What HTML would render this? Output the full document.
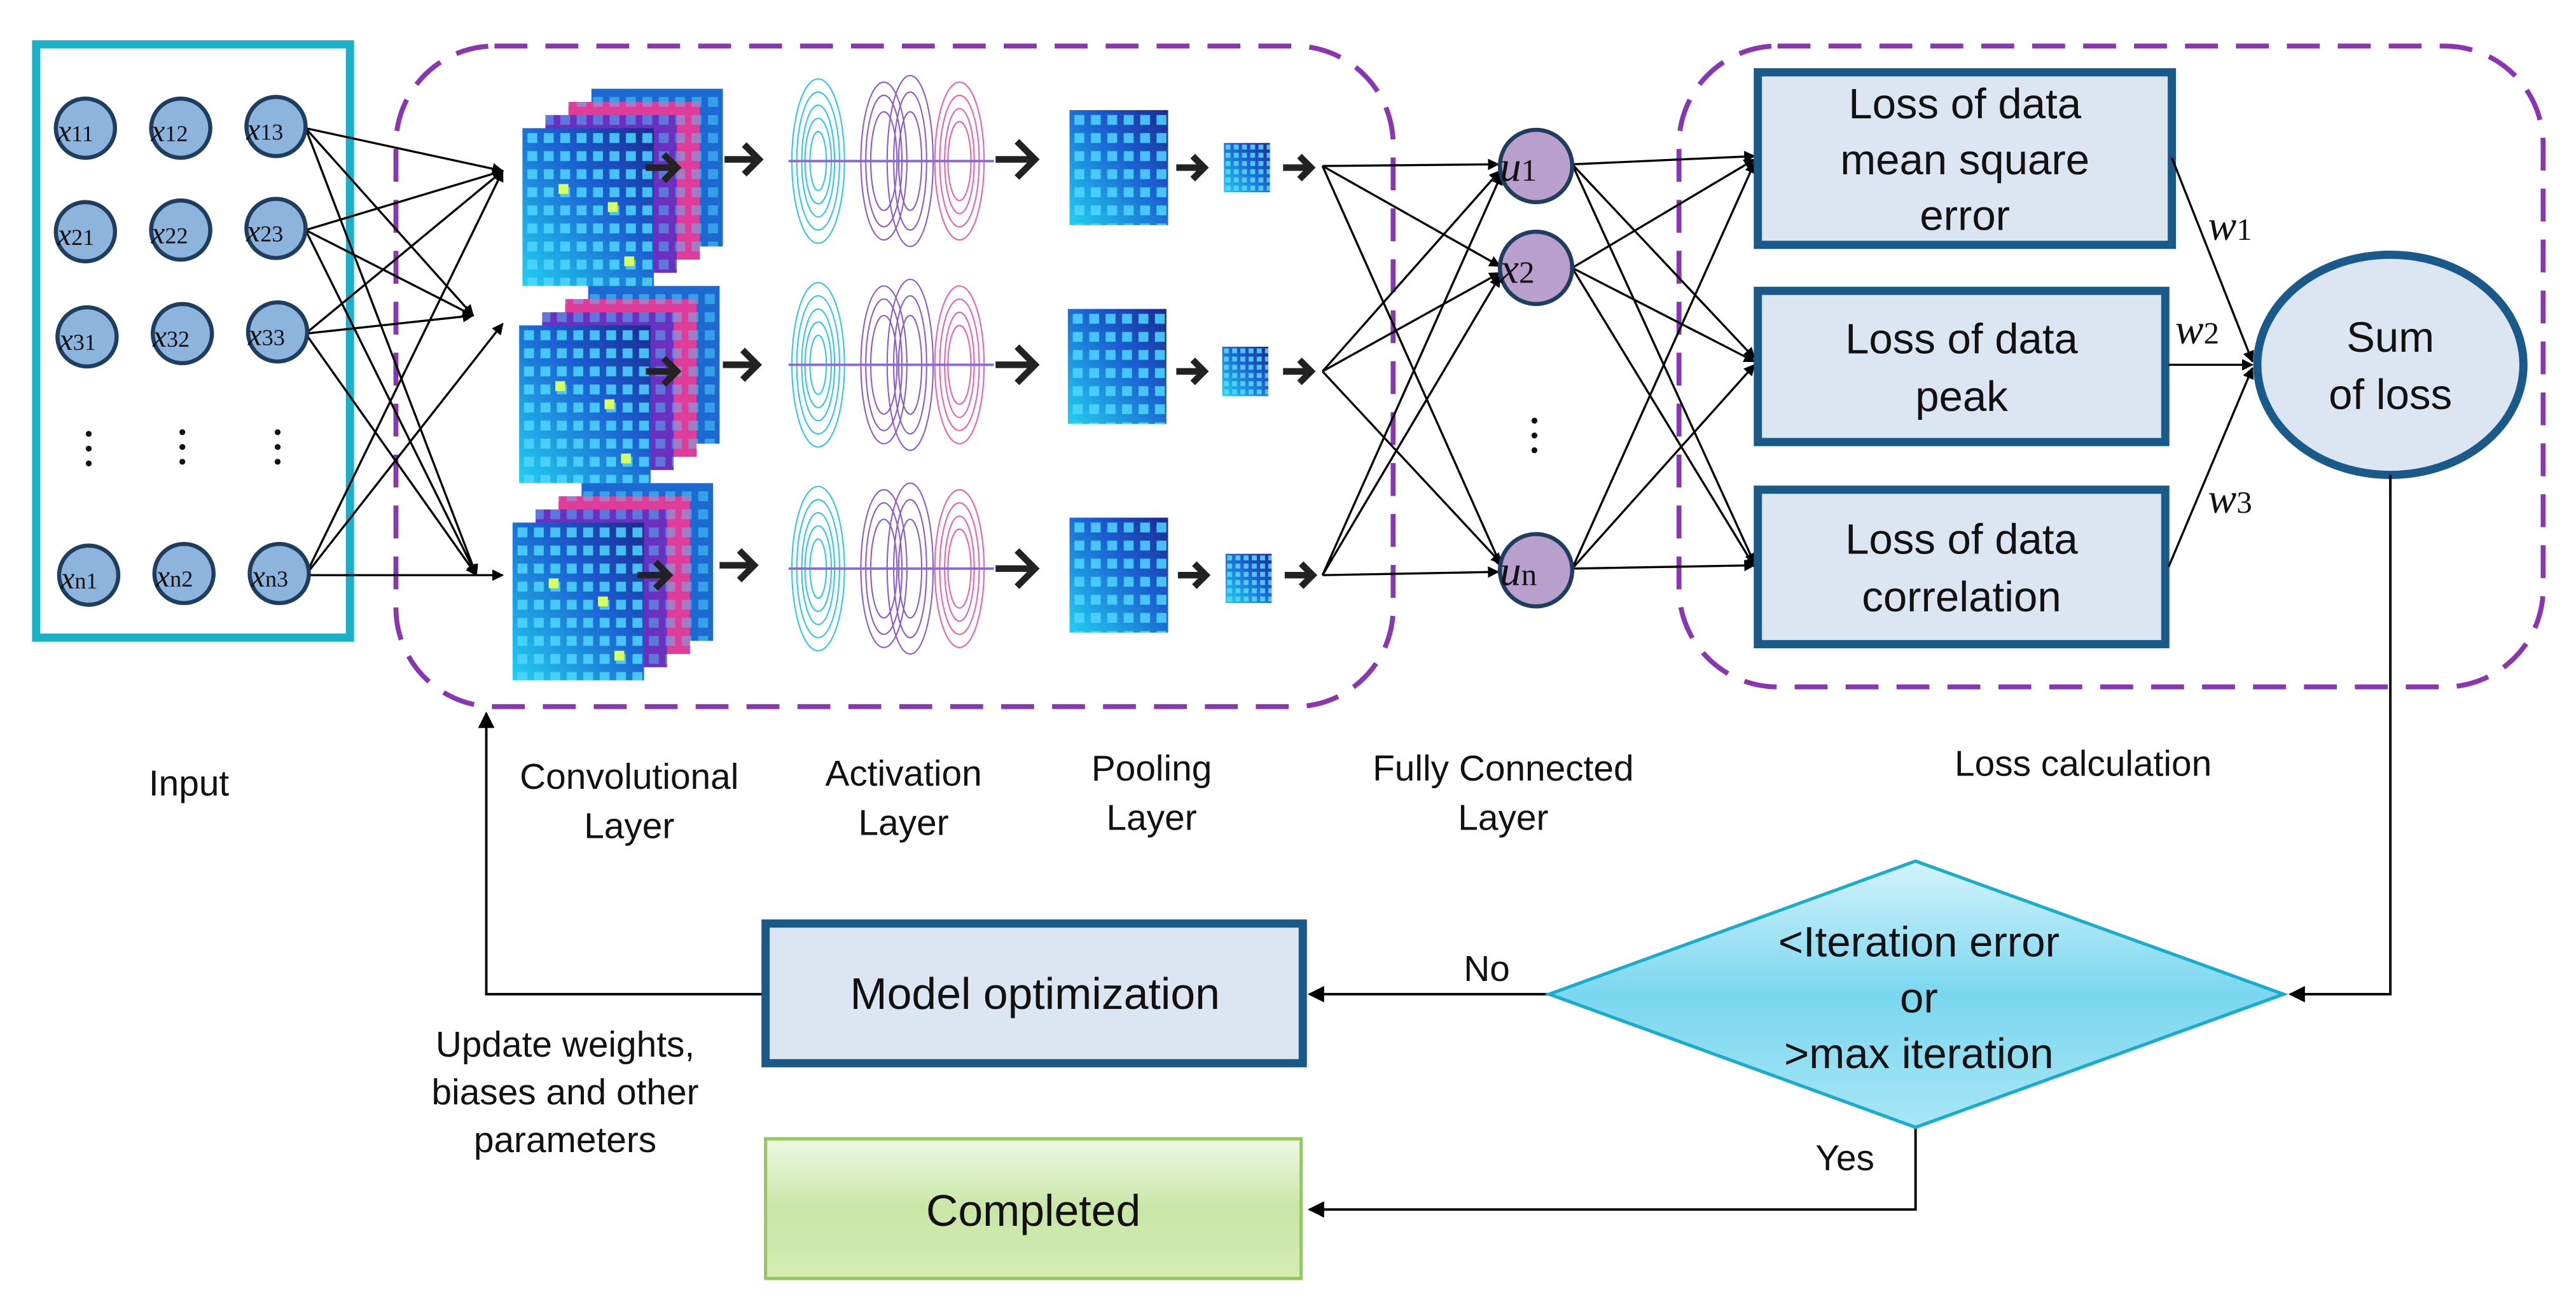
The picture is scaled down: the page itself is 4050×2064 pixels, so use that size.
<!DOCTYPE html>
<html><head><meta charset="utf-8"><style>
html,body{margin:0;padding:0;background:#fff;}
svg{display:block;}
text{font-family:"Liberation Sans","DejaVu Sans",sans-serif;fill:#111;}
.m{font-family:"Liberation Serif",serif;font-style:italic;}
</style></head><body>
<svg width="4050" height="2064" viewBox="0 0 1568 799" preserveAspectRatio="none" xmlns="http://www.w3.org/2000/svg">
<defs>
<marker id="ar" viewBox="0 0 10 10" refX="9" refY="5" markerWidth="7" markerHeight="7" orient="auto" markerUnits="userSpaceOnUse"><path d="M0,0 L10,5 L0,10 z" fill="#000"/></marker>
<marker id="ar2" viewBox="0 0 10 10" refX="9" refY="5" markerWidth="10" markerHeight="10" orient="auto" markerUnits="userSpaceOnUse"><path d="M0,0 L10,5 L0,10 z" fill="#000"/></marker>
<pattern id="grid" width="10" height="11" patternUnits="userSpaceOnUse"><rect x="3" y="3" width="6" height="6" fill="#4fd6ff" opacity="0.85"/></pattern>
<pattern id="grid2" width="5" height="5" patternUnits="userSpaceOnUse"><rect x="1" y="1" width="3" height="3" fill="#5ad8ff" opacity="0.85"/></pattern>
<linearGradient id="fr" x1="0" y1="1" x2="1" y2="0"><stop offset="0" stop-color="#22d0f0"/><stop offset="0.6" stop-color="#1a5ed0"/><stop offset="1" stop-color="#1a2a90"/></linearGradient>
<linearGradient id="dg" x1="0" y1="0" x2="0" y2="1"><stop offset="0" stop-color="#d4f3fc"/><stop offset="0.5" stop-color="#7ad7ef"/><stop offset="1" stop-color="#a8e6f6"/></linearGradient>
<linearGradient id="gg" x1="0" y1="0" x2="0" y2="1"><stop offset="0" stop-color="#eef8e4"/><stop offset="0.5" stop-color="#c9e6a6"/><stop offset="1" stop-color="#d3ecb4"/></linearGradient>
<g id="stack">
<rect x="42" y="-24" width="80" height="96" fill="#1c6ad0"/><rect x="42" y="-24" width="80" height="96" fill="url(#grid)" opacity="0.6"/>
<rect x="28" y="-16" width="80" height="96" fill="#e03c9a"/><rect x="28" y="-16" width="80" height="96" fill="url(#grid)" opacity="0.5"/>
<rect x="14" y="-8" width="80" height="96" fill="#6a30c0"/><rect x="14" y="-8" width="80" height="96" fill="url(#grid)" opacity="0.5"/>
<rect x="0" y="0" width="80" height="96" fill="url(#fr)"/><rect x="0" y="0" width="80" height="96" fill="url(#grid)"/>
<rect x="22" y="34" width="6" height="6" fill="#d8ff60"/><rect x="52" y="45" width="6" height="6" fill="#d8ff60"/><rect x="62" y="78" width="6" height="6" fill="#d8ff60"/>
</g>
<g id="wave" fill="none" stroke-width="0.8">
<g stroke="#2ac8f0"><ellipse cx="18" cy="0" rx="16" ry="50"/><ellipse cx="18" cy="0" rx="13" ry="42"/><ellipse cx="18" cy="0" rx="10" ry="34"/><ellipse cx="18" cy="0" rx="8" ry="26"/><ellipse cx="18" cy="0" rx="5" ry="18"/></g>
<g stroke="#8a5ad0"><ellipse cx="58" cy="0" rx="14" ry="48"/><ellipse cx="58" cy="0" rx="11" ry="40"/><ellipse cx="58" cy="0" rx="8" ry="30"/><ellipse cx="74" cy="0" rx="14" ry="52"/><ellipse cx="74" cy="0" rx="10" ry="42"/><ellipse cx="74" cy="0" rx="7" ry="30"/></g>
<g stroke="#f060a8"><ellipse cx="104" cy="0" rx="15" ry="48"/><ellipse cx="104" cy="0" rx="12" ry="40"/><ellipse cx="104" cy="0" rx="9" ry="32"/><ellipse cx="104" cy="0" rx="7" ry="24"/></g>
<line x1="0" y1="0" x2="125" y2="0" stroke="#8a6ad8" stroke-width="1.5"/>
</g>
<g id="pool"><rect x="0" y="0" width="60" height="70" fill="url(#fr)"/><rect x="0" y="0" width="60" height="70" fill="url(#grid)"/></g>
<g id="spool"><rect x="0" y="0" width="28" height="30" fill="url(#fr)"/><rect x="0" y="0" width="28" height="30" fill="url(#grid2)"/></g>
</defs>

<rect x="22" y="27" width="191" height="361" fill="none" stroke="#1ab0c8" stroke-width="5"/>
<rect x="241" y="28" width="607" height="402" rx="60" fill="none" stroke="#8a35b2" stroke-width="3" stroke-dasharray="20,11"/>
<rect x="1022" y="28" width="526" height="390" rx="60" fill="none" stroke="#8a35b2" stroke-width="3" stroke-dasharray="20,11"/>

<g stroke="#000" stroke-width="1.3" fill="none" marker-end="url(#ar)">
<line x1="186" y1="78" x2="306" y2="104"/><line x1="186" y1="78" x2="288" y2="192"/><line x1="186" y1="78" x2="290" y2="350"/>
<line x1="186" y1="140" x2="306" y2="104"/><line x1="186" y1="140" x2="288" y2="192"/><line x1="186" y1="140" x2="290" y2="350"/>
<line x1="186" y1="203" x2="306" y2="104"/><line x1="186" y1="203" x2="288" y2="192"/><line x1="186" y1="203" x2="290" y2="350"/>
<line x1="186" y1="350" x2="306" y2="104"/><line x1="186" y1="350" x2="306" y2="197"/><line x1="186" y1="350" x2="306" y2="350"/>
</g>
<g fill="#8cb4dc" stroke="#1f3d5e" stroke-width="2.5">
<circle cx="52" cy="78" r="18"/><circle cx="110" cy="78" r="18"/><circle cx="168" cy="77" r="18"/>
<circle cx="52" cy="141" r="18"/><circle cx="110" cy="140" r="18"/><circle cx="168" cy="139" r="18"/>
<circle cx="53" cy="205" r="18"/><circle cx="111" cy="203" r="18"/><circle cx="169" cy="202" r="18"/>
<circle cx="54" cy="350" r="18"/><circle cx="112" cy="349" r="18"/><circle cx="170" cy="349" r="18"/>
</g>
<g font-size="19">
<text x="35" y="86" class="m">x<tspan font-size="14" font-style="normal">11</tspan></text>
<text x="92" y="86" class="m">x<tspan font-size="14" font-style="normal">12</tspan></text>
<text x="150" y="85" class="m">x<tspan font-size="14" font-style="normal">13</tspan></text>
<text x="35" y="149" class="m">x<tspan font-size="14" font-style="normal">21</tspan></text>
<text x="92" y="148" class="m">x<tspan font-size="14" font-style="normal">22</tspan></text>
<text x="150" y="147" class="m">x<tspan font-size="14" font-style="normal">23</tspan></text>
<text x="36" y="213" class="m">x<tspan font-size="14" font-style="normal">31</tspan></text>
<text x="93" y="211" class="m">x<tspan font-size="14" font-style="normal">32</tspan></text>
<text x="151" y="210" class="m">x<tspan font-size="14" font-style="normal">33</tspan></text>
<text x="37" y="358" class="m">x<tspan font-size="14" font-style="normal">n1</tspan></text>
<text x="95" y="357" class="m">x<tspan font-size="14" font-style="normal">n2</tspan></text>
<text x="153" y="357" class="m">x<tspan font-size="14" font-style="normal">n3</tspan></text>
</g>
<g fill="#111"><circle cx="54" cy="264" r="1.8"/><circle cx="54" cy="273" r="1.8"/><circle cx="54" cy="282" r="1.8"/>
<circle cx="111" cy="263" r="1.8"/><circle cx="111" cy="272" r="1.8"/><circle cx="111" cy="281" r="1.8"/>
<circle cx="169" cy="263" r="1.8"/><circle cx="169" cy="272" r="1.8"/><circle cx="169" cy="281" r="1.8"/></g>

<use href="#stack" x="318" y="78"/>
<use href="#stack" x="316" y="198"/>
<use href="#stack" x="312" y="318"/>
<use href="#wave" x="480" y="98"/>
<use href="#wave" x="480" y="222"/>
<use href="#wave" x="480" y="346"/>
<use href="#pool" x="651" y="67"/>
<use href="#pool" x="650" y="188"/>
<use href="#pool" x="651" y="315"/>
<use href="#spool" x="745" y="87"/>
<use href="#spool" x="744" y="211"/>
<use href="#spool" x="746" y="337"/>
<g stroke="#222" stroke-width="4" fill="none">
<path d="M393,102 h18 M404,94 l8,8 -8,8"/><path d="M441,97 h20 M453,88 l9,9 -9,9"/><path d="M606,97 h22 M619,86 l11,11 -11,11"/><path d="M716,102 h16 M726,95 l7,7 -7,7"/><path d="M781,102 h16 M791,95 l7,7 -7,7"/>
<path d="M393,226 h18 M404,218 l8,8 -8,8"/><path d="M440,222 h20 M452,213 l9,9 -9,9"/><path d="M606,222 h22 M619,211 l11,11 -11,11"/><path d="M716,226 h16 M726,219 l7,7 -7,7"/><path d="M781,226 h16 M791,219 l7,7 -7,7"/>
<path d="M388,350 h18 M399,342 l8,8 -8,8"/><path d="M438,344 h20 M450,335 l9,9 -9,9"/><path d="M606,346 h22 M619,335 l11,11 -11,11"/><path d="M717,350 h16 M727,343 l7,7 -7,7"/><path d="M782,350 h16 M792,343 l7,7 -7,7"/>
</g>

<g stroke="#000" stroke-width="1.3" fill="none" marker-end="url(#ar)">
<line x1="805" y1="101" x2="912" y2="100"/><line x1="805" y1="101" x2="913" y2="162"/><line x1="805" y1="101" x2="914" y2="345"/>
<line x1="805" y1="226" x2="913" y2="104"/><line x1="805" y1="226" x2="913" y2="166"/><line x1="805" y1="226" x2="914" y2="343"/>
<line x1="805" y1="350" x2="914" y2="106"/><line x1="805" y1="350" x2="913" y2="168"/><line x1="805" y1="350" x2="912" y2="348"/>
<line x1="957" y1="100" x2="1068" y2="95"/><line x1="957" y1="100" x2="1068" y2="218"/><line x1="957" y1="100" x2="1068" y2="343"/>
<line x1="957" y1="163" x2="1068" y2="97"/><line x1="957" y1="163" x2="1068" y2="220"/><line x1="957" y1="163" x2="1068" y2="345"/>
<line x1="957" y1="346" x2="1068" y2="99"/><line x1="957" y1="346" x2="1068" y2="222"/><line x1="957" y1="346" x2="1068" y2="344"/>
</g>
<g fill="#b9a0cc" stroke="#1f3d5e" stroke-width="2.5">
<circle cx="935" cy="101" r="22"/><circle cx="935" cy="163" r="22"/><circle cx="935" cy="347" r="22"/>
</g>
<text x="913" y="110" font-size="26" class="m">u<tspan font-size="19" font-style="normal">1</tspan></text>
<text x="913" y="172" font-size="26" class="m">x<tspan font-size="19" font-style="normal">2</tspan></text>
<text x="913" y="356" font-size="26" class="m">u<tspan font-size="19" font-style="normal">n</tspan></text>
<g fill="#111"><circle cx="934" cy="256" r="1.8"/><circle cx="934" cy="265" r="1.8"/><circle cx="934" cy="274" r="1.8"/></g>

<g fill="#dbe6f2" stroke="#1a5a8a" stroke-width="5">
<rect x="1070" y="44" width="252" height="105"/>
<rect x="1070" y="177" width="248" height="92"/>
<rect x="1070" y="298" width="248" height="94"/>
</g>
<g font-size="26" text-anchor="middle">
<text x="1196" y="72">Loss of data</text><text x="1196" y="106">mean square</text><text x="1196" y="140">error</text>
<text x="1194" y="215">Loss of data</text><text x="1194" y="250">peak</text>
<text x="1194" y="337">Loss of data</text><text x="1194" y="372">correlation</text>
</g>
<g stroke="#000" stroke-width="1.3" fill="none" marker-end="url(#ar)">
<line x1="1322" y1="96" x2="1371" y2="220"/><line x1="1320" y1="222" x2="1371" y2="222"/><line x1="1320" y1="345" x2="1371" y2="224"/>
</g>
<text x="1344" y="146" font-size="26" class="m">w<tspan font-size="19" font-style="normal">1</tspan></text>
<text x="1324" y="209" font-size="26" class="m">w<tspan font-size="19" font-style="normal">2</tspan></text>
<text x="1344" y="312" font-size="26" class="m">w<tspan font-size="19" font-style="normal">3</tspan></text>
<ellipse cx="1455" cy="222" rx="81" ry="67" fill="#dbe6f2" stroke="#1a5a8a" stroke-width="5"/>
<text x="1455" y="214" font-size="26" text-anchor="middle">Sum</text>
<text x="1455" y="249" font-size="26" text-anchor="middle">of loss</text>

<g font-size="22" text-anchor="middle">
<text x="115" y="484">Input</text>
<text x="383" y="480">Convolutional</text><text x="383" y="510">Layer</text>
<text x="550" y="478">Activation</text><text x="550" y="508">Layer</text>
<text x="701" y="475">Pooling</text><text x="701" y="505">Layer</text>
<text x="915" y="475">Fully Connected</text><text x="915" y="505">Layer</text>
<text x="1268" y="472">Loss calculation</text>
<text x="344" y="643">Update weights,</text><text x="344" y="672">biases and other</text><text x="344" y="701">parameters</text>
<text x="905" y="597">No</text>
<text x="1123" y="712">Yes</text>
</g>

<g stroke="#000" stroke-width="1.5" fill="none">
<path d="M1455,289 V605 H1394" marker-end="url(#ar2)"/>
<path d="M943,605 H797" marker-end="url(#ar2)"/>
<path d="M465,605 H296 V434" marker-end="url(#ar2)"/>
<path d="M1166,686 V736 H797" marker-end="url(#ar2)"/>
</g>
<polygon points="943,605 1166,524 1390,605 1166,686" fill="url(#dg)" stroke="#1aaccc" stroke-width="2"/>
<g font-size="26" text-anchor="middle">
<text x="1168" y="582">&lt;Iteration error</text><text x="1168" y="616">or</text><text x="1168" y="650">&gt;max iteration</text>
</g>
<rect x="466" y="562" width="327" height="85" fill="#dbe6f2" stroke="#1a5a8a" stroke-width="5"/>
<text x="630" y="614" font-size="27" text-anchor="middle">Model optimization</text>
<rect x="466" y="693" width="326" height="85" fill="url(#gg)" stroke="#96c860" stroke-width="2"/>
<text x="629" y="746" font-size="27" text-anchor="middle">Completed</text>
</svg>
</body></html>
